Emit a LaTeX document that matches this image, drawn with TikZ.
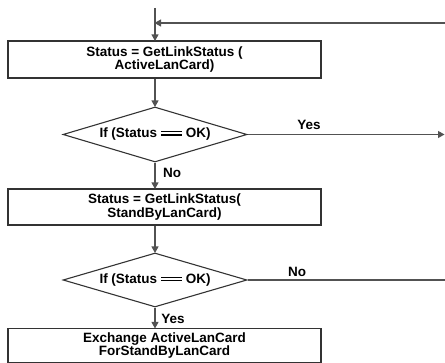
\documentclass[tikz,border=0pt]{standalone}
\usepackage{fontspec}
\setmainfont{Liberation Sans}
\usetikzlibrary{arrows.meta,shapes.geometric}
\begin{document}
\begin{tikzpicture}[x=1pt,y=-1pt,
  flow/.style={draw=black!68,line width=1.2pt},
  arr/.style={flow,-{Triangle[length=6.5pt,width=7pt]},shorten >=-0.5pt},
  procbox/.style={draw=black!80,line width=1.1pt,minimum width=313pt,inner sep=0pt,
    align=center,font=\bfseries\fontsize{13.5}{12}\selectfont},
  decision/.style={diamond,draw=black!80,line width=1.1pt,aspect=3.35,inner sep=0pt,
    minimum width=184pt,minimum height=55pt,font=\bfseries\fontsize{13.5}{12}\selectfont},
  lbl/.style={font=\bfseries\fontsize{13.5}{12}\selectfont,inner sep=0pt}]
\useasboundingbox (0,0) rectangle (445,363);
% long double bar used for the comparison operator
\newcommand{\eqeq}{\mbox{\rlap{\rule[2.4pt]{21pt}{1.3pt}}\rule[5.6pt]{21pt}{1.3pt}}}

% entry and loop-back
\coordinate (top) at (155,8);
\coordinate (join) at (155,23);
\coordinate (back) at (445,23);

% process boxes and decisions
\node[procbox,minimum height=37pt] (b1) at (164.5,59.5) {Status = GetLinkStatus (\\ActiveLanCard)};
\node[decision] (d1) at (155,134.5) {If (Status \eqeq{} OK)};
\node[procbox,minimum height=36pt] (b2) at (164.5,207) {Status = GetLinkStatus(\\StandByLanCard)};
\node[decision,minimum height=54pt] (d2) at (155,280) {If (Status \eqeq{} OK)};
\node[procbox,minimum height=34pt] (b3) at (164.5,345.5) {Exchange ActiveLanCard\\ForStandByLanCard};

% side exits
\coordinate (yesout) at (444,134.5);
\coordinate (noout) at (445,280);

% connectors
\draw[flow] (top) -- (join);
\draw[arr] (join) -- (top |- b1.north);
\draw[arr] (back) -- (join);
\draw[arr] (top |- b1.south) -- (d1.north);
\draw[arr] (d1.east) -- (yesout);
\draw[arr] (d1.south) -- (top |- b2.north);
\draw[arr] (top |- b2.south) -- (d2.north);
\draw[flow] (d2.east) -- (noout);
\draw[arr] (d2.south) -- (top |- b3.north);

% branch labels
\node[lbl] (lyes1) at (309,125) {Yes};
\node[lbl] (lno1) at (172,173) {No};
\node[lbl] (lno2) at (297,271.5) {No};
\node[lbl] (lyes2) at (173,319) {Yes};
\end{tikzpicture}
\end{document}
